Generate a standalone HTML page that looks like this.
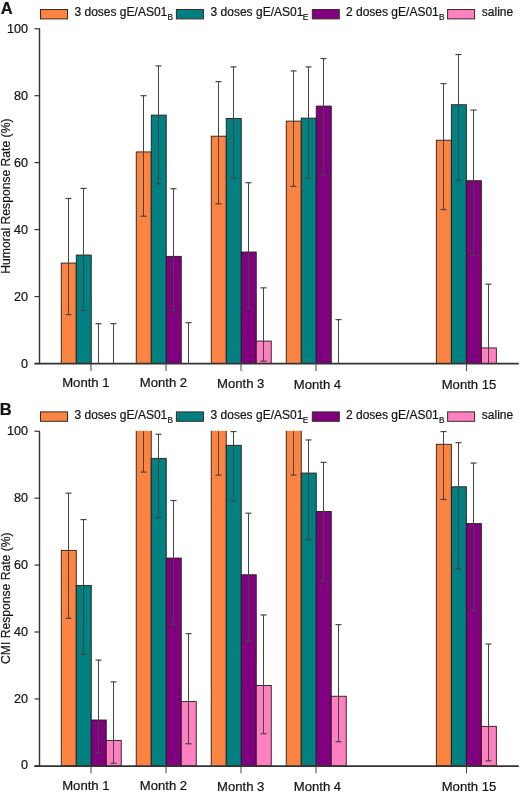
<!DOCTYPE html>
<html><head><meta charset="utf-8"><style>
html,body{margin:0;padding:0;background:#fff;}
body{width:520px;height:793px;overflow:hidden;}
svg{display:block;font-family:"Liberation Sans",sans-serif;will-change:transform;}
text{stroke:#1a1a1a;stroke-width:0.22px;}
</style></head><body>
<svg width="520" height="793" viewBox="0 0 520 793">
<text x="0.8" y="13.6" font-size="16.5" font-weight="bold" fill="#111">A</text>
<rect x="40.5" y="9.5" width="27" height="9.4" fill="#FC8442" stroke="#3a2a20" stroke-width="1"/>
<text x="74.5" y="16.2" font-size="12" fill="#111">3 doses gE/AS01</text>
<text x="167.6" y="20.1" font-size="8.3" fill="#111">B</text>
<rect x="176.4" y="9.5" width="27" height="9.4" fill="#008080" stroke="#3a2a20" stroke-width="1"/>
<text x="210.6" y="16.2" font-size="12" fill="#111">3 doses gE/AS01</text>
<text x="302.8" y="20.1" font-size="8.3" fill="#111">E</text>
<rect x="312.3" y="9.5" width="27" height="9.4" fill="#800080" stroke="#3a2a20" stroke-width="1"/>
<text x="346" y="16.2" font-size="12" fill="#111">2 doses gE/AS01</text>
<text x="439" y="20.1" font-size="8.3" fill="#111">B</text>
<rect x="447.6" y="9.5" width="27" height="9.4" fill="#FF80C0" stroke="#3a2a20" stroke-width="1"/>
<text x="481.8" y="16.2" font-size="12" fill="#111">saline</text>
<rect x="61.25" y="263.07" width="15" height="100.43" fill="#FC8442" stroke="#2a1a1a" stroke-width="0.9"/>
<rect x="76.25" y="255.04" width="15" height="108.46" fill="#008080" stroke="#2a1a1a" stroke-width="0.9"/>
<rect x="136.25" y="151.94" width="15" height="211.56" fill="#FC8442" stroke="#2a1a1a" stroke-width="0.9"/>
<rect x="151.25" y="115.12" width="15" height="248.38" fill="#008080" stroke="#2a1a1a" stroke-width="0.9"/>
<rect x="166.25" y="256.38" width="15" height="107.12" fill="#800080" stroke="#2a1a1a" stroke-width="0.9"/>
<rect x="211.25" y="136.2" width="15" height="227.3" fill="#FC8442" stroke="#2a1a1a" stroke-width="0.9"/>
<rect x="226.25" y="118.46" width="15" height="245.04" fill="#008080" stroke="#2a1a1a" stroke-width="0.9"/>
<rect x="241.25" y="252.03" width="15" height="111.47" fill="#800080" stroke="#2a1a1a" stroke-width="0.9"/>
<rect x="256.25" y="341.07" width="15" height="22.43" fill="#FF80C0" stroke="#2a1a1a" stroke-width="0.9"/>
<rect x="286.25" y="121.14" width="15" height="242.36" fill="#FC8442" stroke="#2a1a1a" stroke-width="0.9"/>
<rect x="301.25" y="118.13" width="15" height="245.37" fill="#008080" stroke="#2a1a1a" stroke-width="0.9"/>
<rect x="316.25" y="106.08" width="15" height="257.42" fill="#800080" stroke="#2a1a1a" stroke-width="0.9"/>
<rect x="436.35" y="140.22" width="15" height="223.28" fill="#FC8442" stroke="#2a1a1a" stroke-width="0.9"/>
<rect x="451.35" y="104.74" width="15" height="258.76" fill="#008080" stroke="#2a1a1a" stroke-width="0.9"/>
<rect x="466.35" y="180.73" width="15" height="182.77" fill="#800080" stroke="#2a1a1a" stroke-width="0.9"/>
<rect x="481.35" y="347.93" width="15" height="15.57" fill="#FF80C0" stroke="#2a1a1a" stroke-width="0.9"/>
<line x1="68.5" y1="198.47" x2="68.5" y2="314.63" stroke="#444444" stroke-width="1.05"/>
<line x1="65.5" y1="198.47" x2="71.5" y2="198.47" stroke="#444444" stroke-width="1.2"/>
<line x1="65.5" y1="314.63" x2="71.5" y2="314.63" stroke="#444444" stroke-width="1.2"/>
<line x1="83.5" y1="188.43" x2="83.5" y2="310.61" stroke="#444444" stroke-width="1.05"/>
<line x1="80.5" y1="188.43" x2="86.5" y2="188.43" stroke="#444444" stroke-width="1.2"/>
<line x1="80.5" y1="310.61" x2="86.5" y2="310.61" stroke="#444444" stroke-width="1.2"/>
<line x1="98.5" y1="323.66" x2="98.5" y2="363.5" stroke="#444444" stroke-width="1.05"/>
<line x1="95.5" y1="323.66" x2="101.5" y2="323.66" stroke="#444444" stroke-width="1.2"/>
<line x1="113.5" y1="323.66" x2="113.5" y2="363.5" stroke="#444444" stroke-width="1.05"/>
<line x1="110.5" y1="323.66" x2="116.5" y2="323.66" stroke="#444444" stroke-width="1.2"/>
<line x1="143.5" y1="95.7" x2="143.5" y2="216.21" stroke="#444444" stroke-width="1.05"/>
<line x1="140.5" y1="95.7" x2="146.5" y2="95.7" stroke="#444444" stroke-width="1.2"/>
<line x1="140.5" y1="216.21" x2="146.5" y2="216.21" stroke="#444444" stroke-width="1.2"/>
<line x1="158.5" y1="65.91" x2="158.5" y2="183.74" stroke="#444444" stroke-width="1.05"/>
<line x1="155.5" y1="65.91" x2="161.5" y2="65.91" stroke="#444444" stroke-width="1.2"/>
<line x1="155.5" y1="183.74" x2="161.5" y2="183.74" stroke="#444444" stroke-width="1.2"/>
<line x1="173.5" y1="188.76" x2="173.5" y2="310.27" stroke="#444444" stroke-width="1.05"/>
<line x1="170.5" y1="188.76" x2="176.5" y2="188.76" stroke="#444444" stroke-width="1.2"/>
<line x1="170.5" y1="310.27" x2="176.5" y2="310.27" stroke="#444444" stroke-width="1.2"/>
<line x1="188.5" y1="322.66" x2="188.5" y2="363.5" stroke="#444444" stroke-width="1.05"/>
<line x1="185.5" y1="322.66" x2="191.5" y2="322.66" stroke="#444444" stroke-width="1.2"/>
<line x1="218.5" y1="81.64" x2="218.5" y2="203.82" stroke="#444444" stroke-width="1.05"/>
<line x1="215.5" y1="81.64" x2="221.5" y2="81.64" stroke="#444444" stroke-width="1.2"/>
<line x1="215.5" y1="203.82" x2="221.5" y2="203.82" stroke="#444444" stroke-width="1.2"/>
<line x1="233.5" y1="66.91" x2="233.5" y2="178.05" stroke="#444444" stroke-width="1.05"/>
<line x1="230.5" y1="66.91" x2="236.5" y2="66.91" stroke="#444444" stroke-width="1.2"/>
<line x1="230.5" y1="178.05" x2="236.5" y2="178.05" stroke="#444444" stroke-width="1.2"/>
<line x1="248.5" y1="182.74" x2="248.5" y2="308.27" stroke="#444444" stroke-width="1.05"/>
<line x1="245.5" y1="182.74" x2="251.5" y2="182.74" stroke="#444444" stroke-width="1.2"/>
<line x1="245.5" y1="308.27" x2="251.5" y2="308.27" stroke="#444444" stroke-width="1.2"/>
<line x1="263.5" y1="287.85" x2="263.5" y2="361.16" stroke="#444444" stroke-width="1.05"/>
<line x1="260.5" y1="287.85" x2="266.5" y2="287.85" stroke="#444444" stroke-width="1.2"/>
<line x1="260.5" y1="361.16" x2="266.5" y2="361.16" stroke="#444444" stroke-width="1.2"/>
<line x1="293.5" y1="70.93" x2="293.5" y2="186.42" stroke="#444444" stroke-width="1.05"/>
<line x1="290.5" y1="70.93" x2="296.5" y2="70.93" stroke="#444444" stroke-width="1.2"/>
<line x1="290.5" y1="186.42" x2="296.5" y2="186.42" stroke="#444444" stroke-width="1.2"/>
<line x1="308.5" y1="66.91" x2="308.5" y2="178.05" stroke="#444444" stroke-width="1.05"/>
<line x1="305.5" y1="66.91" x2="311.5" y2="66.91" stroke="#444444" stroke-width="1.2"/>
<line x1="305.5" y1="178.05" x2="311.5" y2="178.05" stroke="#444444" stroke-width="1.2"/>
<line x1="323.5" y1="58.54" x2="323.5" y2="174.7" stroke="#444444" stroke-width="1.05"/>
<line x1="320.5" y1="58.54" x2="326.5" y2="58.54" stroke="#444444" stroke-width="1.2"/>
<line x1="320.5" y1="174.7" x2="326.5" y2="174.7" stroke="#444444" stroke-width="1.2"/>
<line x1="338.5" y1="319.65" x2="338.5" y2="363.5" stroke="#444444" stroke-width="1.05"/>
<line x1="335.5" y1="319.65" x2="341.5" y2="319.65" stroke="#444444" stroke-width="1.2"/>
<line x1="443.5" y1="83.65" x2="443.5" y2="209.51" stroke="#444444" stroke-width="1.05"/>
<line x1="440.5" y1="83.65" x2="446.5" y2="83.65" stroke="#444444" stroke-width="1.2"/>
<line x1="440.5" y1="209.51" x2="446.5" y2="209.51" stroke="#444444" stroke-width="1.2"/>
<line x1="458.5" y1="54.53" x2="458.5" y2="180.39" stroke="#444444" stroke-width="1.05"/>
<line x1="455.5" y1="54.53" x2="461.5" y2="54.53" stroke="#444444" stroke-width="1.2"/>
<line x1="455.5" y1="180.39" x2="461.5" y2="180.39" stroke="#444444" stroke-width="1.2"/>
<line x1="473.5" y1="110.09" x2="473.5" y2="255.71" stroke="#444444" stroke-width="1.05"/>
<line x1="470.5" y1="110.09" x2="476.5" y2="110.09" stroke="#444444" stroke-width="1.2"/>
<line x1="470.5" y1="255.71" x2="476.5" y2="255.71" stroke="#444444" stroke-width="1.2"/>
<line x1="488.5" y1="284.16" x2="488.5" y2="363.5" stroke="#444444" stroke-width="1.05"/>
<line x1="485.5" y1="284.16" x2="491.5" y2="284.16" stroke="#444444" stroke-width="1.2"/>
<line x1="39.5" y1="28.75" x2="39.5" y2="363.5" stroke="#333333" stroke-width="1.4"/>
<line x1="34.5" y1="363.7" x2="518.8" y2="363.7" stroke="#333333" stroke-width="1.7"/>
<line x1="34.5" y1="363.5" x2="40" y2="363.5" stroke="#333333" stroke-width="1.2"/>
<text x="27.9" y="367.9" font-size="12.6" text-anchor="end" fill="#111">0</text>
<line x1="34.5" y1="296.55" x2="40" y2="296.55" stroke="#333333" stroke-width="1.2"/>
<text x="27.9" y="300.95" font-size="12.6" text-anchor="end" fill="#111">20</text>
<line x1="34.5" y1="229.6" x2="40" y2="229.6" stroke="#333333" stroke-width="1.2"/>
<text x="27.9" y="234" font-size="12.6" text-anchor="end" fill="#111">40</text>
<line x1="34.5" y1="162.65" x2="40" y2="162.65" stroke="#333333" stroke-width="1.2"/>
<text x="27.9" y="167.05" font-size="12.6" text-anchor="end" fill="#111">60</text>
<line x1="34.5" y1="95.7" x2="40" y2="95.7" stroke="#333333" stroke-width="1.2"/>
<text x="27.9" y="100.1" font-size="12.6" text-anchor="end" fill="#111">80</text>
<line x1="34.5" y1="28.75" x2="40" y2="28.75" stroke="#333333" stroke-width="1.2"/>
<text x="27.9" y="33.15" font-size="12.6" text-anchor="end" fill="#111">100</text>
<line x1="91" y1="363.5" x2="91" y2="371" stroke="#444" stroke-width="1.0"/>
<line x1="166" y1="363.5" x2="166" y2="371" stroke="#444" stroke-width="1.0"/>
<line x1="241" y1="363.5" x2="241" y2="371" stroke="#444" stroke-width="1.0"/>
<line x1="316" y1="363.5" x2="316" y2="371" stroke="#444" stroke-width="1.0"/>
<line x1="466.5" y1="363.5" x2="466.5" y2="371" stroke="#444" stroke-width="1.0"/>
<text x="62.2" y="387.3" font-size="13.1" fill="#111">Month 1</text>
<text x="139.8" y="387.1" font-size="13.1" fill="#111">Month 2</text>
<text x="217.1" y="387.9" font-size="13.1" fill="#111">Month 3</text>
<text x="293.8" y="389.2" font-size="13.1" fill="#111">Month 4</text>
<text x="441.7" y="389" font-size="13.1" fill="#111">Month 15</text>
<text transform="translate(10.2,196.1) rotate(-90)" font-size="12.15" text-anchor="middle" fill="#111">Humoral Response Rate (%)</text>
<text x="-0.3" y="414.8" font-size="16.5" font-weight="bold" fill="#111">B</text>
<rect x="40.5" y="411.9" width="27" height="9.4" fill="#FC8442" stroke="#3a2a20" stroke-width="1"/>
<text x="74.5" y="418.6" font-size="12" fill="#111">3 doses gE/AS01</text>
<text x="167.6" y="422.5" font-size="8.3" fill="#111">B</text>
<rect x="176.4" y="411.9" width="27" height="9.4" fill="#008080" stroke="#3a2a20" stroke-width="1"/>
<text x="210.6" y="418.6" font-size="12" fill="#111">3 doses gE/AS01</text>
<text x="302.8" y="422.5" font-size="8.3" fill="#111">E</text>
<rect x="312.3" y="411.9" width="27" height="9.4" fill="#800080" stroke="#3a2a20" stroke-width="1"/>
<text x="346" y="418.6" font-size="12" fill="#111">2 doses gE/AS01</text>
<text x="439" y="422.5" font-size="8.3" fill="#111">B</text>
<rect x="447.6" y="411.9" width="27" height="9.4" fill="#FF80C0" stroke="#3a2a20" stroke-width="1"/>
<text x="481.8" y="418.6" font-size="12" fill="#111">saline</text>
<rect x="61.25" y="550.37" width="15" height="215.48" fill="#FC8442" stroke="#2a1a1a" stroke-width="0.9"/>
<rect x="76.25" y="585.5" width="15" height="180.35" fill="#008080" stroke="#2a1a1a" stroke-width="0.9"/>
<rect x="91.25" y="720.01" width="15" height="45.84" fill="#800080" stroke="#2a1a1a" stroke-width="0.9"/>
<rect x="106.25" y="740.42" width="15" height="25.43" fill="#FF80C0" stroke="#2a1a1a" stroke-width="0.9"/>
<rect x="136.25" y="430.8" width="15" height="335.05" fill="#FC8442"/>
<path d="M136.25 430.8V765.85M151.25 430.8V765.85" stroke="#2a1a1a" stroke-width="0.9" fill="none"/>
<rect x="151.25" y="458.35" width="15" height="307.5" fill="#008080" stroke="#2a1a1a" stroke-width="0.9"/>
<rect x="166.25" y="558.06" width="15" height="207.79" fill="#800080" stroke="#2a1a1a" stroke-width="0.9"/>
<rect x="181.25" y="701.61" width="15" height="64.24" fill="#FF80C0" stroke="#2a1a1a" stroke-width="0.9"/>
<rect x="211.25" y="430.8" width="15" height="335.05" fill="#FC8442"/>
<path d="M211.25 430.8V765.85M226.25 430.8V765.85" stroke="#2a1a1a" stroke-width="0.9" fill="none"/>
<rect x="226.25" y="445.3" width="15" height="320.55" fill="#008080" stroke="#2a1a1a" stroke-width="0.9"/>
<rect x="241.25" y="574.79" width="15" height="191.06" fill="#800080" stroke="#2a1a1a" stroke-width="0.9"/>
<rect x="256.25" y="685.55" width="15" height="80.3" fill="#FF80C0" stroke="#2a1a1a" stroke-width="0.9"/>
<rect x="286.25" y="430.8" width="15" height="335.05" fill="#FC8442"/>
<path d="M286.25 430.8V765.85M301.25 430.8V765.85" stroke="#2a1a1a" stroke-width="0.9" fill="none"/>
<rect x="301.25" y="473.07" width="15" height="292.78" fill="#008080" stroke="#2a1a1a" stroke-width="0.9"/>
<rect x="316.25" y="511.55" width="15" height="254.3" fill="#800080" stroke="#2a1a1a" stroke-width="0.9"/>
<rect x="331.25" y="696.25" width="15" height="69.6" fill="#FF80C0" stroke="#2a1a1a" stroke-width="0.9"/>
<rect x="436.35" y="444.3" width="15" height="321.55" fill="#FC8442" stroke="#2a1a1a" stroke-width="0.9"/>
<rect x="451.35" y="486.79" width="15" height="279.06" fill="#008080" stroke="#2a1a1a" stroke-width="0.9"/>
<rect x="466.35" y="523.6" width="15" height="242.25" fill="#800080" stroke="#2a1a1a" stroke-width="0.9"/>
<rect x="481.35" y="726.37" width="15" height="39.48" fill="#FF80C0" stroke="#2a1a1a" stroke-width="0.9"/>
<line x1="68.5" y1="493.15" x2="68.5" y2="618.29" stroke="#444444" stroke-width="1.05"/>
<line x1="65.5" y1="493.15" x2="71.5" y2="493.15" stroke="#444444" stroke-width="1.2"/>
<line x1="65.5" y1="618.29" x2="71.5" y2="618.29" stroke="#444444" stroke-width="1.2"/>
<line x1="83.5" y1="519.58" x2="83.5" y2="654.43" stroke="#444444" stroke-width="1.05"/>
<line x1="80.5" y1="519.58" x2="86.5" y2="519.58" stroke="#444444" stroke-width="1.2"/>
<line x1="80.5" y1="654.43" x2="86.5" y2="654.43" stroke="#444444" stroke-width="1.2"/>
<line x1="98.5" y1="660.12" x2="98.5" y2="752.8" stroke="#444444" stroke-width="1.05"/>
<line x1="95.5" y1="660.12" x2="101.5" y2="660.12" stroke="#444444" stroke-width="1.2"/>
<line x1="95.5" y1="752.8" x2="101.5" y2="752.8" stroke="#444444" stroke-width="1.2"/>
<line x1="113.5" y1="681.87" x2="113.5" y2="763.17" stroke="#444444" stroke-width="1.05"/>
<line x1="110.5" y1="681.87" x2="116.5" y2="681.87" stroke="#444444" stroke-width="1.2"/>
<line x1="110.5" y1="763.17" x2="116.5" y2="763.17" stroke="#444444" stroke-width="1.2"/>
<line x1="143.5" y1="431.25" x2="143.5" y2="472.07" stroke="#444444" stroke-width="1.05"/>
<line x1="140.5" y1="472.07" x2="146.5" y2="472.07" stroke="#444444" stroke-width="1.2"/>
<line x1="158.5" y1="434.26" x2="158.5" y2="517.91" stroke="#444444" stroke-width="1.05"/>
<line x1="155.5" y1="434.26" x2="161.5" y2="434.26" stroke="#444444" stroke-width="1.2"/>
<line x1="155.5" y1="517.91" x2="161.5" y2="517.91" stroke="#444444" stroke-width="1.2"/>
<line x1="173.5" y1="500.51" x2="173.5" y2="624.31" stroke="#444444" stroke-width="1.05"/>
<line x1="170.5" y1="500.51" x2="176.5" y2="500.51" stroke="#444444" stroke-width="1.2"/>
<line x1="170.5" y1="624.31" x2="176.5" y2="624.31" stroke="#444444" stroke-width="1.2"/>
<line x1="188.5" y1="633.68" x2="188.5" y2="743.77" stroke="#444444" stroke-width="1.05"/>
<line x1="185.5" y1="633.68" x2="191.5" y2="633.68" stroke="#444444" stroke-width="1.2"/>
<line x1="185.5" y1="743.77" x2="191.5" y2="743.77" stroke="#444444" stroke-width="1.2"/>
<line x1="218.5" y1="431.25" x2="218.5" y2="475.08" stroke="#444444" stroke-width="1.05"/>
<line x1="215.5" y1="475.08" x2="221.5" y2="475.08" stroke="#444444" stroke-width="1.2"/>
<line x1="233.5" y1="431.58" x2="233.5" y2="501.18" stroke="#444444" stroke-width="1.05"/>
<line x1="230.5" y1="431.58" x2="236.5" y2="431.58" stroke="#444444" stroke-width="1.2"/>
<line x1="230.5" y1="501.18" x2="236.5" y2="501.18" stroke="#444444" stroke-width="1.2"/>
<line x1="248.5" y1="513.23" x2="248.5" y2="641.38" stroke="#444444" stroke-width="1.05"/>
<line x1="245.5" y1="513.23" x2="251.5" y2="513.23" stroke="#444444" stroke-width="1.2"/>
<line x1="245.5" y1="641.38" x2="251.5" y2="641.38" stroke="#444444" stroke-width="1.2"/>
<line x1="263.5" y1="614.95" x2="263.5" y2="733.73" stroke="#444444" stroke-width="1.05"/>
<line x1="260.5" y1="614.95" x2="266.5" y2="614.95" stroke="#444444" stroke-width="1.2"/>
<line x1="260.5" y1="733.73" x2="266.5" y2="733.73" stroke="#444444" stroke-width="1.2"/>
<line x1="293.5" y1="431.25" x2="293.5" y2="475.08" stroke="#444444" stroke-width="1.05"/>
<line x1="290.5" y1="475.08" x2="296.5" y2="475.08" stroke="#444444" stroke-width="1.2"/>
<line x1="308.5" y1="439.95" x2="308.5" y2="539.66" stroke="#444444" stroke-width="1.05"/>
<line x1="305.5" y1="439.95" x2="311.5" y2="439.95" stroke="#444444" stroke-width="1.2"/>
<line x1="305.5" y1="539.66" x2="311.5" y2="539.66" stroke="#444444" stroke-width="1.2"/>
<line x1="323.5" y1="462.37" x2="323.5" y2="581.15" stroke="#444444" stroke-width="1.05"/>
<line x1="320.5" y1="462.37" x2="326.5" y2="462.37" stroke="#444444" stroke-width="1.2"/>
<line x1="320.5" y1="581.15" x2="326.5" y2="581.15" stroke="#444444" stroke-width="1.2"/>
<line x1="338.5" y1="624.65" x2="338.5" y2="741.76" stroke="#444444" stroke-width="1.05"/>
<line x1="335.5" y1="624.65" x2="341.5" y2="624.65" stroke="#444444" stroke-width="1.2"/>
<line x1="335.5" y1="741.76" x2="341.5" y2="741.76" stroke="#444444" stroke-width="1.2"/>
<line x1="443.5" y1="431.58" x2="443.5" y2="499.51" stroke="#444444" stroke-width="1.05"/>
<line x1="440.5" y1="431.58" x2="446.5" y2="431.58" stroke="#444444" stroke-width="1.2"/>
<line x1="440.5" y1="499.51" x2="446.5" y2="499.51" stroke="#444444" stroke-width="1.2"/>
<line x1="458.5" y1="442.63" x2="458.5" y2="569.11" stroke="#444444" stroke-width="1.05"/>
<line x1="455.5" y1="442.63" x2="461.5" y2="442.63" stroke="#444444" stroke-width="1.2"/>
<line x1="455.5" y1="569.11" x2="461.5" y2="569.11" stroke="#444444" stroke-width="1.2"/>
<line x1="473.5" y1="463.04" x2="473.5" y2="610.26" stroke="#444444" stroke-width="1.05"/>
<line x1="470.5" y1="463.04" x2="476.5" y2="463.04" stroke="#444444" stroke-width="1.2"/>
<line x1="470.5" y1="610.26" x2="476.5" y2="610.26" stroke="#444444" stroke-width="1.2"/>
<line x1="488.5" y1="644.06" x2="488.5" y2="760.83" stroke="#444444" stroke-width="1.05"/>
<line x1="485.5" y1="644.06" x2="491.5" y2="644.06" stroke="#444444" stroke-width="1.2"/>
<line x1="485.5" y1="760.83" x2="491.5" y2="760.83" stroke="#444444" stroke-width="1.2"/>
<line x1="39.5" y1="431.25" x2="39.5" y2="765.85" stroke="#333333" stroke-width="1.4"/>
<line x1="34.5" y1="766.05" x2="518.8" y2="766.05" stroke="#333333" stroke-width="1.7"/>
<line x1="34.5" y1="765.85" x2="40" y2="765.85" stroke="#333333" stroke-width="1.2"/>
<text x="27.9" y="769.45" font-size="12.6" text-anchor="end" fill="#111">0</text>
<line x1="34.5" y1="698.93" x2="40" y2="698.93" stroke="#333333" stroke-width="1.2"/>
<text x="27.9" y="702.53" font-size="12.6" text-anchor="end" fill="#111">20</text>
<line x1="34.5" y1="632.01" x2="40" y2="632.01" stroke="#333333" stroke-width="1.2"/>
<text x="27.9" y="635.61" font-size="12.6" text-anchor="end" fill="#111">40</text>
<line x1="34.5" y1="565.09" x2="40" y2="565.09" stroke="#333333" stroke-width="1.2"/>
<text x="27.9" y="568.69" font-size="12.6" text-anchor="end" fill="#111">60</text>
<line x1="34.5" y1="498.17" x2="40" y2="498.17" stroke="#333333" stroke-width="1.2"/>
<text x="27.9" y="501.77" font-size="12.6" text-anchor="end" fill="#111">80</text>
<line x1="34.5" y1="431.25" x2="40" y2="431.25" stroke="#333333" stroke-width="1.2"/>
<text x="27.9" y="434.85" font-size="12.6" text-anchor="end" fill="#111">100</text>
<line x1="91" y1="765.85" x2="91" y2="773.35" stroke="#444" stroke-width="1.0"/>
<line x1="166" y1="765.85" x2="166" y2="773.35" stroke="#444" stroke-width="1.0"/>
<line x1="241" y1="765.85" x2="241" y2="773.35" stroke="#444" stroke-width="1.0"/>
<line x1="316" y1="765.85" x2="316" y2="773.35" stroke="#444" stroke-width="1.0"/>
<line x1="466.5" y1="765.85" x2="466.5" y2="773.35" stroke="#444" stroke-width="1.0"/>
<text x="62.2" y="790.2" font-size="13.1" fill="#111">Month 1</text>
<text x="139.8" y="789.7" font-size="13.1" fill="#111">Month 2</text>
<text x="217.1" y="790.8" font-size="13.1" fill="#111">Month 3</text>
<text x="293.8" y="791.3" font-size="13.1" fill="#111">Month 4</text>
<text x="441.7" y="791.2" font-size="13.1" fill="#111">Month 15</text>
<text transform="translate(10.2,598.2) rotate(-90)" font-size="12.15" text-anchor="middle" fill="#111">CMI Response Rate (%)</text>
</svg>
</body></html>
